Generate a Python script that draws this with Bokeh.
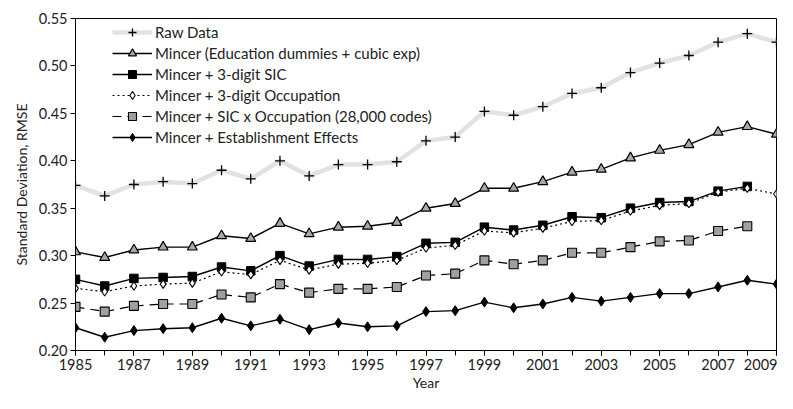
from bokeh.plotting import figure
from bokeh.models import Range1d, FixedTicker, Legend, LegendItem, NumeralTickFormatter
from bokeh.embed import file_html
from bokeh.resources import INLINE

years = list(range(1985, 2010))
raw_data = [0.374, 0.363, 0.375, 0.378, 0.376, 0.390, 0.381, 0.400, 0.384, 0.396, 0.396, 0.399,
            0.421, 0.425, 0.452, 0.448, 0.457, 0.471, 0.477, 0.493, 0.503, 0.511, 0.525, 0.534, 0.525]
mincer = [0.304, 0.298, 0.306, 0.309, 0.309, 0.321, 0.318, 0.334, 0.323, 0.330, 0.331, 0.335,
          0.350, 0.355, 0.371, 0.371, 0.378, 0.388, 0.391, 0.403, 0.411, 0.417, 0.430, 0.436, 0.428]
sic = [0.275, 0.268, 0.276, 0.277, 0.278, 0.288, 0.284, 0.300, 0.289, 0.296, 0.296, 0.299,
       0.313, 0.314, 0.330, 0.327, 0.332, 0.341, 0.340, 0.350, 0.356, 0.357, 0.368, 0.373]
occupation = [0.2655, 0.262, 0.268, 0.270, 0.271, 0.283, 0.280, 0.295, 0.285, 0.291, 0.292, 0.295,
              0.308, 0.311, 0.326, 0.324, 0.329, 0.336, 0.337, 0.347, 0.353, 0.355, 0.367, 0.371, 0.365]
sic_x_occ = [0.246, 0.241, 0.247, 0.249, 0.249, 0.259, 0.256, 0.270, 0.261, 0.265, 0.265, 0.267,
             0.279, 0.281, 0.295, 0.291, 0.295, 0.303, 0.303, 0.309, 0.315, 0.316, 0.326, 0.331]
establishment = [0.224, 0.214, 0.221, 0.223, 0.224, 0.234, 0.226, 0.233, 0.222, 0.229, 0.225, 0.226,
                 0.241, 0.242, 0.251, 0.245, 0.249, 0.256, 0.252, 0.256, 0.260, 0.260, 0.267, 0.274, 0.270]
labels = ["Raw Data", "Mincer (Education dummies + cubic exp)", "Mincer + 3-digit SIC",
          "Mincer + 3-digit Occupation", "Mincer + SIC x Occupation (28,000 codes)",
          "Mincer + Establishment Effects"]
y_ticks = [0.20, 0.25, 0.30, 0.35, 0.40, 0.45, 0.50, 0.55]
x_label_years = list(range(1985, 2010, 2))

FONT = "Lato"
W, H = 777, 393
LEFT, TOP, RIGHT, BOTTOM = 75, 18, 1, 38

p = figure(width=W, height=H, output_backend="svg", toolbar_location=None,
           x_range=Range1d(1985, 2009), y_range=Range1d(0.20, 0.55),
           min_border_left=LEFT, min_border_right=RIGHT, min_border_top=TOP,
           min_border_bottom=BOTTOM)
p.xgrid.visible = False
p.ygrid.visible = False
p.outline_line_color = "black"
p.outline_line_width = 1
p.background_fill_color = "white"
p.border_fill_color = "white"

# axes
p.xaxis.ticker = FixedTicker(ticks=x_label_years, minor_ticks=years)
p.yaxis.ticker = FixedTicker(ticks=y_ticks, minor_ticks=[])
p.yaxis.formatter = NumeralTickFormatter(format="0.00")
for ax in (p.xaxis[0], p.yaxis[0]):
    ax.axis_line_color = "black"
    ax.axis_line_width = 1
    ax.major_tick_line_color = "black"
    ax.minor_tick_line_color = "black"
    ax.major_tick_in = 0
    ax.major_tick_out = 5
    ax.minor_tick_in = 0
    ax.minor_tick_out = 5
    ax.major_label_text_font = FONT
    ax.major_label_text_font_size = "14.5px"
    ax.major_label_text_color = "#222222"
    ax.axis_label_text_font = FONT
    ax.axis_label_text_font_size = "14px"
    ax.axis_label_text_font_style = "normal"
    ax.axis_label_text_color = "#222222"
    ax.major_label_standoff = 3
p.yaxis.minor_tick_out = 0
p.xaxis.axis_label = "Year"
p.yaxis.axis_label = "Standard Deviation, RMSE"
p.xaxis.axis_label_standoff = 1
p.yaxis.axis_label_standoff = 6

n_sic = len(sic)
n_sxo = len(sic_x_occ)

r_raw_line = p.line(years, raw_data, line_color="#e2e2e2", line_width=4.5)
r_raw_mark = p.scatter(years, raw_data, marker="cross", size=10, line_color="black", line_width=1.3)

r_min_line = p.line(years, mincer, line_color="black", line_width=1.4)
r_min_mark = p.scatter(years, mincer, marker="triangle", size=10, fill_color="#a8a8a8",
                       line_color="black", line_width=1.2)

r_sic_line = p.line(years[:n_sic], sic, line_color="black", line_width=1.4)
r_sic_mark = p.scatter(years[:n_sic], sic, marker="square", size=8.5, fill_color="black",
                       line_color="black", line_width=1)

r_occ_line = p.line(years, occupation, line_color="black", line_width=1.2, line_dash="2 3")
r_occ_mark = p.scatter(years, occupation, marker="diamond", size=8.5, fill_color="white",
                       line_color="black", line_width=1.1)

r_sxo_line = p.line(years[:n_sxo], sic_x_occ, line_color="black", line_width=1.2, line_dash="9 6")
r_sxo_mark = p.scatter(years[:n_sxo], sic_x_occ, marker="square", size=9, fill_color="#a0a0a0",
                       line_color="black", line_width=1.1)

r_est_line = p.line(years, establishment, line_color="black", line_width=1.4)
r_est_mark = p.scatter(years, establishment, marker="diamond", size=10, fill_color="black",
                       line_color="black", line_width=1)

items = [
    LegendItem(label=labels[0], renderers=[r_raw_line, r_raw_mark]),
    LegendItem(label=labels[1], renderers=[r_min_line, r_min_mark]),
    LegendItem(label=labels[2], renderers=[r_sic_line, r_sic_mark]),
    LegendItem(label=labels[3], renderers=[r_occ_line, r_occ_mark]),
    LegendItem(label=labels[4], renderers=[r_sxo_line, r_sxo_mark]),
    LegendItem(label=labels[5], renderers=[r_est_line, r_est_mark]),
]
frame_h = H - TOP - BOTTOM
legend = Legend(items=items, location=(37, frame_h - 8 - 126), orientation="vertical",
                border_line_color=None, background_fill_alpha=0,
                glyph_width=40, glyph_height=20, label_height=20, spacing=1,
                label_standoff=3, padding=0, margin=0,
                label_text_font=FONT, label_text_font_size="15px",
                label_text_color="#222222")
p.add_layout(legend)

open("out.html", "w").write(file_html(p, INLINE))
